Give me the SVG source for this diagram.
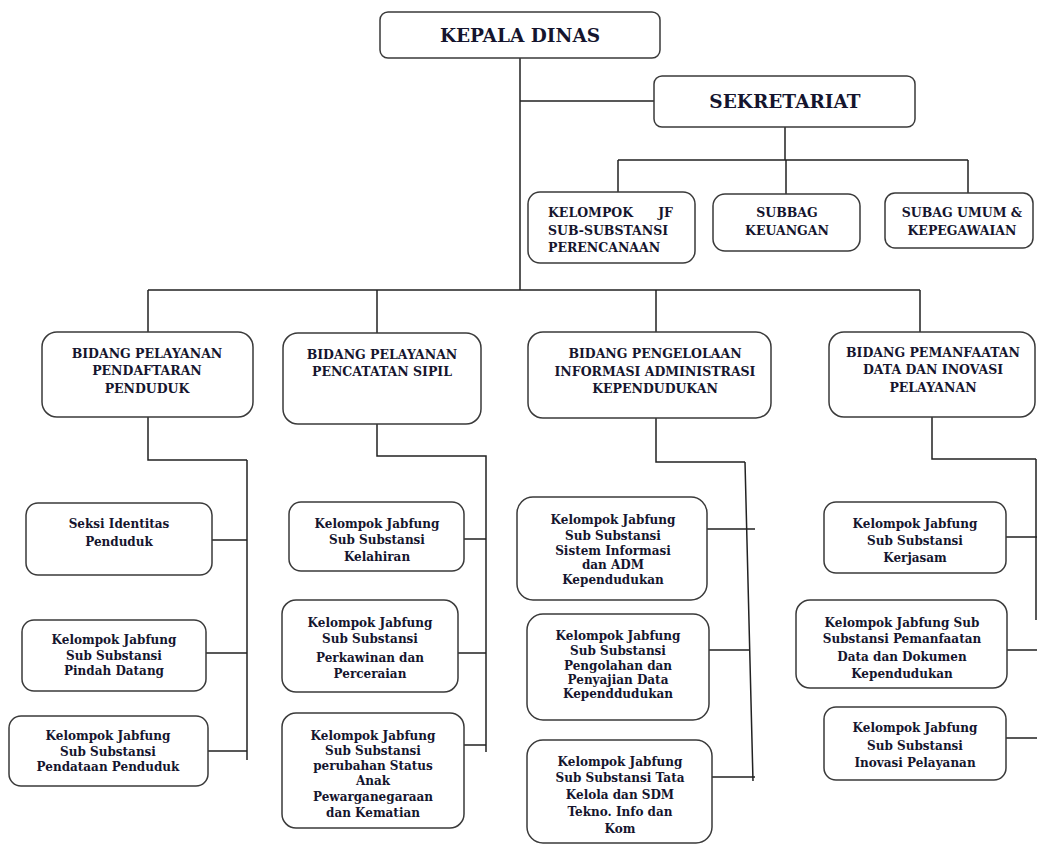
<svg xmlns="http://www.w3.org/2000/svg" width="1037" height="846" viewBox="0 0 1037 846">
<style>
.box{fill:#fff;stroke:#3a3a3a;stroke-width:1.5}
.t{font-family:"DejaVu Serif","Liberation Serif",serif;font-weight:bold;fill:#15152e;text-anchor:middle}
.h{font-size:18.5px}
.u{font-size:12.5px}
.l{font-size:12px}
.s{text-anchor:start}
.e{text-anchor:end}
.c{fill:none;stroke:#222;stroke-width:1.5}
</style>
<rect width="1037" height="846" fill="#fff"/>
<g id="connectors">
<path class="c" d="M520 58V290M520 101H654M785 127V160M618 160H968M618 160V192M786 160V194M968 160V193"/>
<path class="c" d="M148 290H920M148 290V332M377 290V333M656 290V332M920 290V332"/>
<path class="c" d="M148 417V460H247M247 460V760M212 540H247M206 653H247M208 751H247"/>
<path class="c" d="M377 424V456H486V752M464 539H486M458 653H486M464 745H486"/>
<path class="c" d="M656 418V462H745M745 462L753 781M707 529H755M709 650H750M712 777H755"/>
<path class="c" d="M932 417V459H1036M1036 459V620M1006 537H1037M1007 650H1037M1006 738H1037"/>
</g>
<g id="kepala-dinas"><rect class="box" x="380" y="12" width="280" height="46" rx="8"/><text class="t h" x="520" y="42">KEPALA DINAS</text></g>
<g id="sekretariat"><rect class="box" x="654" y="76" width="261" height="51" rx="8"/><text class="t h" x="785" y="108">SEKRETARIAT</text></g>
<g id="kelompok-jf"><rect class="box" x="528" y="192" width="167" height="71" rx="12"/>
<text class="t u s" x="548" y="216.5">KELOMPOK</text><text class="t u e" x="673" y="216.5">JF</text>
<text class="t u s" x="548" y="234.5">SUB-SUBSTANSI</text><text class="t u s" x="548" y="251.5">PERENCANAAN</text></g>
<g id="subbag-keuangan"><rect class="box" x="713" y="194" width="147" height="57" rx="12"/>
<text class="t u" x="787" y="217">SUBBAG</text><text class="t u" x="787" y="235">KEUANGAN</text></g>
<g id="subag-umum"><rect class="box" x="885" y="193" width="148" height="55" rx="10"/>
<text class="t u" x="962" y="217">SUBAG UMUM &amp;</text><text class="t u" x="962" y="235">KEPEGAWAIAN</text></g>
<g id="bidang-pendaftaran"><rect class="box" x="42" y="332" width="211" height="85" rx="15"/>
<text class="t u" x="147" y="357.5">BIDANG PELAYANAN</text><text class="t u" x="147" y="375">PENDAFTARAN</text><text class="t u" x="147" y="392.5">PENDUDUK</text></g>
<g id="bidang-pencatatan"><rect class="box" x="283" y="333" width="198" height="91" rx="15"/>
<text class="t u" x="382" y="358.5">BIDANG PELAYANAN</text><text class="t u" x="382" y="375.5">PENCATATAN SIPIL</text></g>
<g id="bidang-pengelolaan"><rect class="box" x="528" y="332" width="243" height="86" rx="15"/>
<text class="t u" x="655" y="357.5">BIDANG PENGELOLAAN</text><text class="t u" x="655" y="375.5">INFORMASI ADMINISTRASI</text><text class="t u" x="655" y="392.5">KEPENDUDUKAN</text></g>
<g id="bidang-pemanfaatan"><rect class="box" x="829" y="332" width="206" height="85" rx="15"/>
<text class="t u" x="933" y="356.5">BIDANG PEMANFAATAN</text><text class="t u" x="933" y="373.5">DATA DAN INOVASI</text><text class="t u" x="933" y="391.5">PELAYANAN</text></g>
<g id="seksi-identitas"><rect class="box" x="26" y="503" width="186" height="72" rx="12"/>
<text class="t l" x="119" y="527.5">Seksi Identitas</text><text class="t l" x="119" y="545.5">Penduduk</text></g>
<g id="pindah-datang"><rect class="box" x="22" y="620" width="184" height="71" rx="12"/>
<text class="t l" x="114" y="643.5">Kelompok Jabfung</text><text class="t l" x="114" y="659.5">Sub Substansi</text><text class="t l" x="114" y="675">Pindah Datang</text></g>
<g id="pendataan"><rect class="box" x="9" y="716" width="199" height="70" rx="12"/>
<text class="t l" x="108" y="740">Kelompok Jabfung</text><text class="t l" x="108" y="755.5">Sub Substansi</text><text class="t l" x="108" y="771">Pendataan Penduduk</text></g>
<g id="kelahiran"><rect class="box" x="289" y="502" width="175" height="69" rx="12"/>
<text class="t l" x="377" y="527.5">Kelompok Jabfung</text><text class="t l" x="377" y="543.5">Sub Substansi</text><text class="t l" x="377" y="560.5">Kelahiran</text></g>
<g id="perkawinan"><rect class="box" x="282" y="600" width="176" height="92" rx="14"/>
<text class="t l" x="370" y="626.5">Kelompok Jabfung</text><text class="t l" x="370" y="642.5">Sub Substansi</text><text class="t l" x="370" y="661.5">Perkawinan dan</text><text class="t l" x="370" y="677.5">Perceraian</text></g>
<g id="perubahan-status"><rect class="box" x="282" y="713" width="182" height="115" rx="14"/>
<text class="t l" x="373" y="739.5">Kelompok Jabfung</text><text class="t l" x="373" y="754.5">Sub Substansi</text><text class="t l" x="373" y="769.5">perubahan Status</text><text class="t l" x="373" y="784.5">Anak</text><text class="t l" x="373" y="800.5">Pewarganegaraan</text><text class="t l" x="373" y="816.5">dan Kematian</text></g>
<g id="sistem-informasi"><rect class="box" x="517" y="497" width="190" height="103" rx="16"/>
<text class="t l" x="613" y="524">Kelompok Jabfung</text><text class="t l" x="613" y="539.5">Sub Substansi</text><text class="t l" x="613" y="555">Sistem Informasi</text><text class="t l" x="613" y="569">dan ADM</text><text class="t l" x="613" y="584">Kependudukan</text></g>
<g id="pengolahan"><rect class="box" x="527" y="614" width="182" height="106" rx="16"/>
<text class="t l" x="618" y="640">Kelompok Jabfung</text><text class="t l" x="618" y="655">Sub Substansi</text><text class="t l" x="618" y="670">Pengolahan dan</text><text class="t l" x="618" y="684">Penyajian Data</text><text class="t l" x="618" y="698">Kependdudukan</text></g>
<g id="tata-kelola"><rect class="box" x="527" y="740" width="185" height="103" rx="16"/>
<text class="t l" x="620" y="766">Kelompok Jabfung</text><text class="t l" x="620" y="782">Sub Substansi Tata</text><text class="t l" x="620" y="799">Kelola dan SDM</text><text class="t l" x="620" y="816">Tekno. Info dan</text><text class="t l" x="620" y="833">Kom</text></g>
<g id="kerjasam"><rect class="box" x="824" y="502" width="182" height="71" rx="12"/>
<text class="t l" x="915" y="527.5">Kelompok Jabfung</text><text class="t l" x="915" y="544.5">Sub Substansi</text><text class="t l" x="915" y="561.5">Kerjasam</text></g>
<g id="pemanfaatan-data"><rect class="box" x="796" y="600" width="211" height="88" rx="14"/>
<text class="t l" x="902" y="626.5">Kelompok Jabfung  Sub</text><text class="t l" x="902" y="642.5">Substansi Pemanfaatan</text><text class="t l" x="902" y="660.5">Data dan Dokumen</text><text class="t l" x="902" y="677.5">Kependudukan</text></g>
<g id="inovasi"><rect class="box" x="824" y="707" width="182" height="73" rx="12"/>
<text class="t l" x="915" y="731.5">Kelompok Jabfung</text><text class="t l" x="915" y="749.5">Sub Substansi</text><text class="t l" x="915" y="766.5">Inovasi Pelayanan</text></g>
</svg>
